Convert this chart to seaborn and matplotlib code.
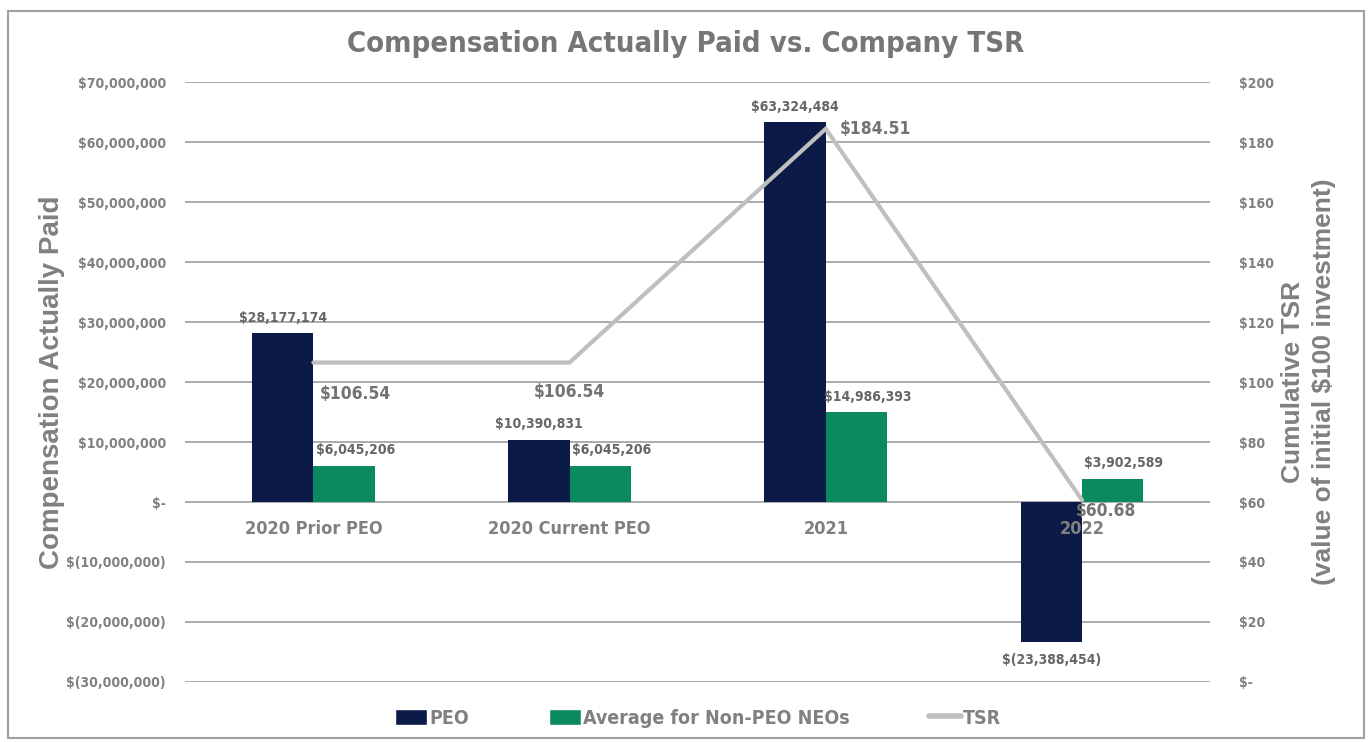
import numpy as np
import pandas as pd
import seaborn as sns
import matplotlib.pyplot as plt
from matplotlib.patches import Patch, Rectangle
from matplotlib.lines import Line2D
from matplotlib.ticker import FuncFormatter

categories = ["2020 Prior PEO", "2020 Current PEO", "2021", "2022"]
peo_cap = [28177174, 10390831, 63324484, -23388454]
neo_cap = [6045206, 6045206, 14986393, 3902589]
tsr = [106.54, 106.54, 184.51, 60.68]
series_names = ["PEO", "Average for Non-PEO NEOs"]

NAVY = "#0b1a46"
GREEN = "#0c8a5f"
LINE_GRAY = "#bfbfbf"
TEXT_GRAY = "#808080"
GRID_GRAY = "#a6a6a6"
WIDE = ["Liberation Sans", "DejaVu Sans"]

sns.set_theme(style="white")
plt.rcParams["font.family"] = ["DejaVu Sans"]
plt.rcParams["font.stretch"] = "condensed"

df = pd.DataFrame({
    "category": categories * 2,
    "value": peo_cap + neo_cap,
    "series": [series_names[0]] * 4 + [series_names[1]] * 4,
})

fig = plt.figure(figsize=(13.72, 7.42), dpi=100)
ax = fig.add_axes([0.135, 0.081, 0.747, 0.808])

sns.barplot(data=df, x="category", y="value", hue="series",
            palette=[NAVY, GREEN], width=0.48, gap=0, ax=ax,
            legend=False, saturation=1, errorbar=None, linewidth=0)

ax.set_ylim(-30_000_000, 70_000_000)
ax.set_xlim(-0.5, 3.5)
ax.set_yticks(np.arange(-30_000_000, 70_000_001, 10_000_000))


def money_fmt(v, _):
    if v == 0:
        return "$-"
    if v < 0:
        return f"$({abs(v):,.0f})"
    return f"${v:,.0f}"


ax.yaxis.set_major_formatter(FuncFormatter(money_fmt))
ax.grid(axis="y", color=GRID_GRAY, linewidth=1.3)
ax.set_axisbelow(True)
for s in ax.spines.values():
    s.set_visible(False)
ax.tick_params(axis="y", length=0, pad=14, labelsize=10, labelcolor=TEXT_GRAY)
for lbl in ax.get_yticklabels():
    lbl.set_fontweight("bold")
ax.tick_params(axis="x", length=0, labelbottom=False)
ax.set_xlabel("")
ax.set_ylabel("Compensation Actually Paid", family=WIDE, fontsize=20,
              fontweight="bold", fontstretch="normal", color=TEXT_GRAY,
              labelpad=1)

xs = np.arange(len(categories))
# category names sit just under the zero line, drawn over the bars
for i, cat in enumerate(categories):
    ax.annotate(cat, (xs[i], 0), xytext=(0, -13), textcoords="offset points",
                ha="center", va="top", fontsize=13, fontweight="bold",
                color=TEXT_GRAY, zorder=5)

# value labels for bars
for i, v in enumerate(peo_cap):
    off = 6 if v >= 0 else -8
    ax.annotate(money_fmt(v, None), (xs[i] - 0.12, v), xytext=(0, off),
                textcoords="offset points", ha="center",
                va="bottom" if v >= 0 else "top",
                fontsize=10, fontweight="bold", color="#666666")
for i, v in enumerate(neo_cap):
    ax.annotate(money_fmt(v, None), (xs[i] + 0.12, v), xytext=(8, 6),
                textcoords="offset points", ha="center", va="bottom",
                fontsize=10, fontweight="bold", color="#666666")

# TSR line on secondary axis
ax2 = ax.twinx()
ax2.plot(xs, tsr, color=LINE_GRAY, linewidth=3, solid_joinstyle="miter")
ax2.set_ylim(0, 200)
ax2.set_yticks(np.arange(0, 201, 20))
ax2.yaxis.set_major_formatter(FuncFormatter(lambda v, _: "$-" if v == 0 else f"${v:.0f}"))
for s in ax2.spines.values():
    s.set_visible(False)
ax2.tick_params(axis="y", length=0, pad=21, labelsize=10, labelcolor=TEXT_GRAY)
for lbl in ax2.get_yticklabels():
    lbl.set_fontweight("bold")
ax2.set_ylabel("Cumulative TSR\n(value of initial $100 investment)", family=WIDE,
               fontsize=19, fontweight="bold", fontstretch="normal",
               color=TEXT_GRAY, labelpad=5, linespacing=1.35)

tsr_offsets = [(30, -23), (0, -21), (36, 0), (17, -8)]
for i, v in enumerate(tsr):
    ax2.annotate(f"${v:.2f}", (xs[i], v), xytext=tsr_offsets[i],
                 textcoords="offset points", ha="center", va="center",
                 fontsize=12.5, fontweight="bold", color="#737373")

fig.suptitle("Compensation Actually Paid vs. Company TSR", y=0.96,
             x=0.5, fontsize=21, fontweight="bold", color="#767676")

handles = [Patch(facecolor=NAVY), Patch(facecolor=GREEN),
           Line2D([0], [0], color=LINE_GRAY, linewidth=4)]
leg = fig.legend(handles, ["PEO", "Average for Non-PEO NEOs", "TSR"],
                 loc="center", bbox_to_anchor=(0.509, 0.032), ncol=3,
                 frameon=False, fontsize=14, handlelength=1.65,
                 handleheight=0.9, handletextpad=0.1, columnspacing=4.1)
for t in leg.get_texts():
    t.set_color(TEXT_GRAY)
    t.set_fontweight("bold")

fig.patches.append(Rectangle((0.006, 0.005), 0.988, 0.98, transform=fig.transFigure,
                             fill=False, edgecolor="#a0a0a0", linewidth=1.5))

fig.savefig("out.png", dpi=100)
